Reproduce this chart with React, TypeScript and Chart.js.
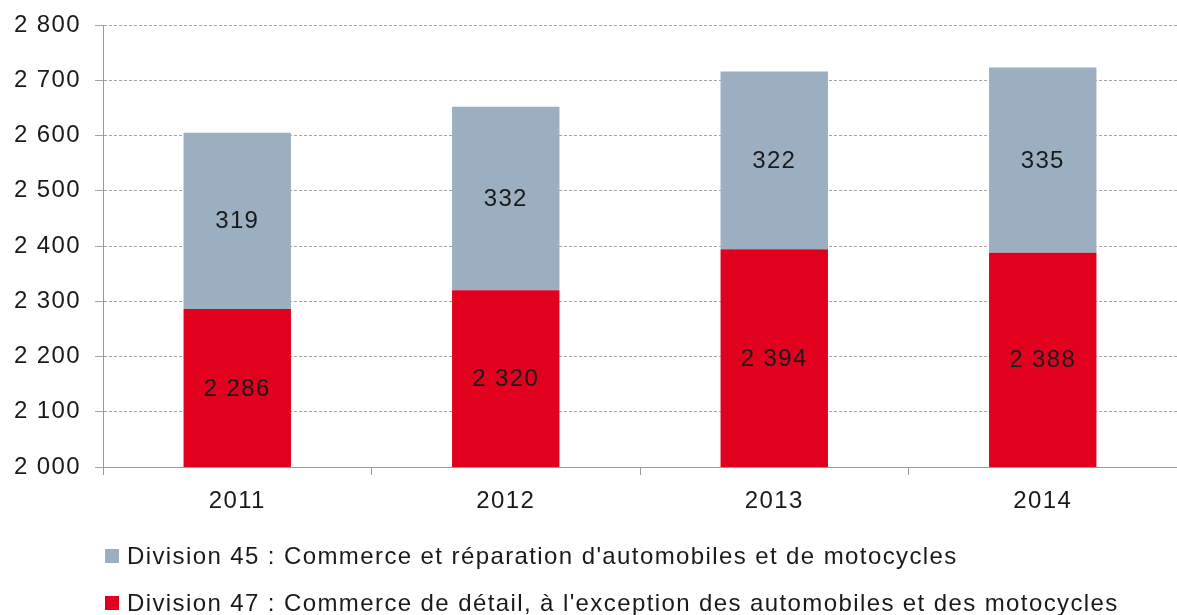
import React, { useEffect, useRef } from "react";
import { Chart, registerables } from "chart.js";

Chart.register(...registerables);

const categories = ["2011", "2012", "2013", "2014"];
const division47 = [2286, 2320, 2394, 2388];
const division45 = [319, 332, 322, 335];
const label45 = "Division 45 : Commerce et réparation d'automobiles et de motocycles";
const label47 = "Division 47 : Commerce de détail, à l'exception des automobiles et des motocycles";
const yMin = 2000;
const yMax = 2800;
const yStep = 100;

const RED = "#E2001F";
const GRAY = "#9BAFC0";
const TEXT = "#1a1a1a";
const FONT = "'Liberation Sans', Arial, Helvetica, sans-serif";
const TRACKING = "1.4px";

const fmt = (n: number) => String(Math.round(n)).replace(/\B(?=(\d{3})+(?!\d))/g, " ");

const tracking = {
  id: "tracking",
  beforeUpdate(chart: any) {
    (chart.ctx as any).letterSpacing = TRACKING;
  },
  beforeDraw(chart: any) {
    (chart.ctx as any).letterSpacing = TRACKING;
  },
};

const valueLabels = {
  id: "valueLabels",
  afterDatasetsDraw(chart: any) {
    const ctx = chart.ctx;
    const area = chart.chartArea;
    ctx.save();
    ctx.letterSpacing = TRACKING;
    ctx.font = `24px ${FONT}`;
    ctx.fillStyle = TEXT;
    ctx.textAlign = "center";
    ctx.textBaseline = "middle";
    chart.data.datasets.forEach((ds: any, di: number) => {
      const meta = chart.getDatasetMeta(di);
      meta.data.forEach((el: any, i: number) => {
        const top = Math.max(el.y, area.top);
        const bottom = Math.min(el.base, area.bottom);
        ctx.fillText(fmt(ds.data[i]), el.x, (top + bottom) / 2 + 1);
      });
    });
    ctx.restore();
  },
};

const bottomLegend = {
  id: "bottomLegend",
  afterDraw(chart: any) {
    const ctx = chart.ctx;
    const area = chart.chartArea;
    const items = [...chart.data.datasets].reverse();
    ctx.save();
    ctx.letterSpacing = TRACKING;
    ctx.font = `24px ${FONT}`;
    ctx.textBaseline = "middle";
    ctx.textAlign = "left";
    items.forEach((ds: any, i: number) => {
      const cy = area.bottom + 89 + i * 47;
      const x0 = area.left + 2;
      ctx.fillStyle = ds.backgroundColor;
      ctx.fillRect(x0, cy - 7, 14, 14);
      ctx.fillStyle = TEXT;
      ctx.fillText(ds.label, x0 + 22, cy + 1);
    });
    ctx.restore();
  },
};

export default function App() {
  const ref = useRef<HTMLCanvasElement | null>(null);

  useEffect(() => {
    document.body.style.margin = "0";
    const canvas = ref.current;
    if (!canvas) return;
    const chart = new Chart(canvas, {
      type: "bar",
      data: {
        labels: categories,
        datasets: [
          {
            label: label47,
            data: division47,
            backgroundColor: RED,
            barPercentage: 0.4,
            categoryPercentage: 1,
          },
          {
            label: label45,
            data: division45,
            backgroundColor: GRAY,
            barPercentage: 0.4,
            categoryPercentage: 1,
          },
        ],
      },
      options: {
        animation: false,
        responsive: false,
        maintainAspectRatio: false,
        layout: { padding: { top: 25, right: 0, bottom: 100, left: 0 } },
        plugins: {
          legend: { display: false },
          tooltip: { enabled: false },
        },
        scales: {
          x: {
            stacked: true,
            grid: {
              offset: true,
              drawOnChartArea: false,
              drawTicks: true,
              tickLength: 8,
              color: "#9a9a9a",
            },
            border: { display: true, color: "#9a9a9a", width: 1 },
            ticks: {
              color: TEXT,
              font: { family: FONT, size: 24 },
              padding: 12,
            },
            afterFit(scale: any) {
              scale.height = 48;
              scale.paddingLeft = 0;
              scale.paddingRight = 0;
            },
          },
          y: {
            stacked: true,
            min: yMin,
            max: yMax,
            grid: {
              color: "#a5a5a5",
              tickLength: 8,
              lineWidth: 1,
            },
            border: { display: true, color: "#9a9a9a", width: 1, dash: [3, 2] },
            ticks: {
              stepSize: yStep,
              color: TEXT,
              font: { family: FONT, size: 24 },
              padding: 14,
              callback: (v: any) => fmt(Number(v)),
            },
            afterFit(scale: any) {
              scale.width = 103;
              scale.paddingTop = 0;
              scale.paddingBottom = 0;
            },
          },
        },
      },
      plugins: [tracking, valueLabels, bottomLegend],
    } as any);
    return () => chart.destroy();
  }, []);

  return <canvas ref={ref} width={1177} height={615} style={{ display: "block" }} />;
}
